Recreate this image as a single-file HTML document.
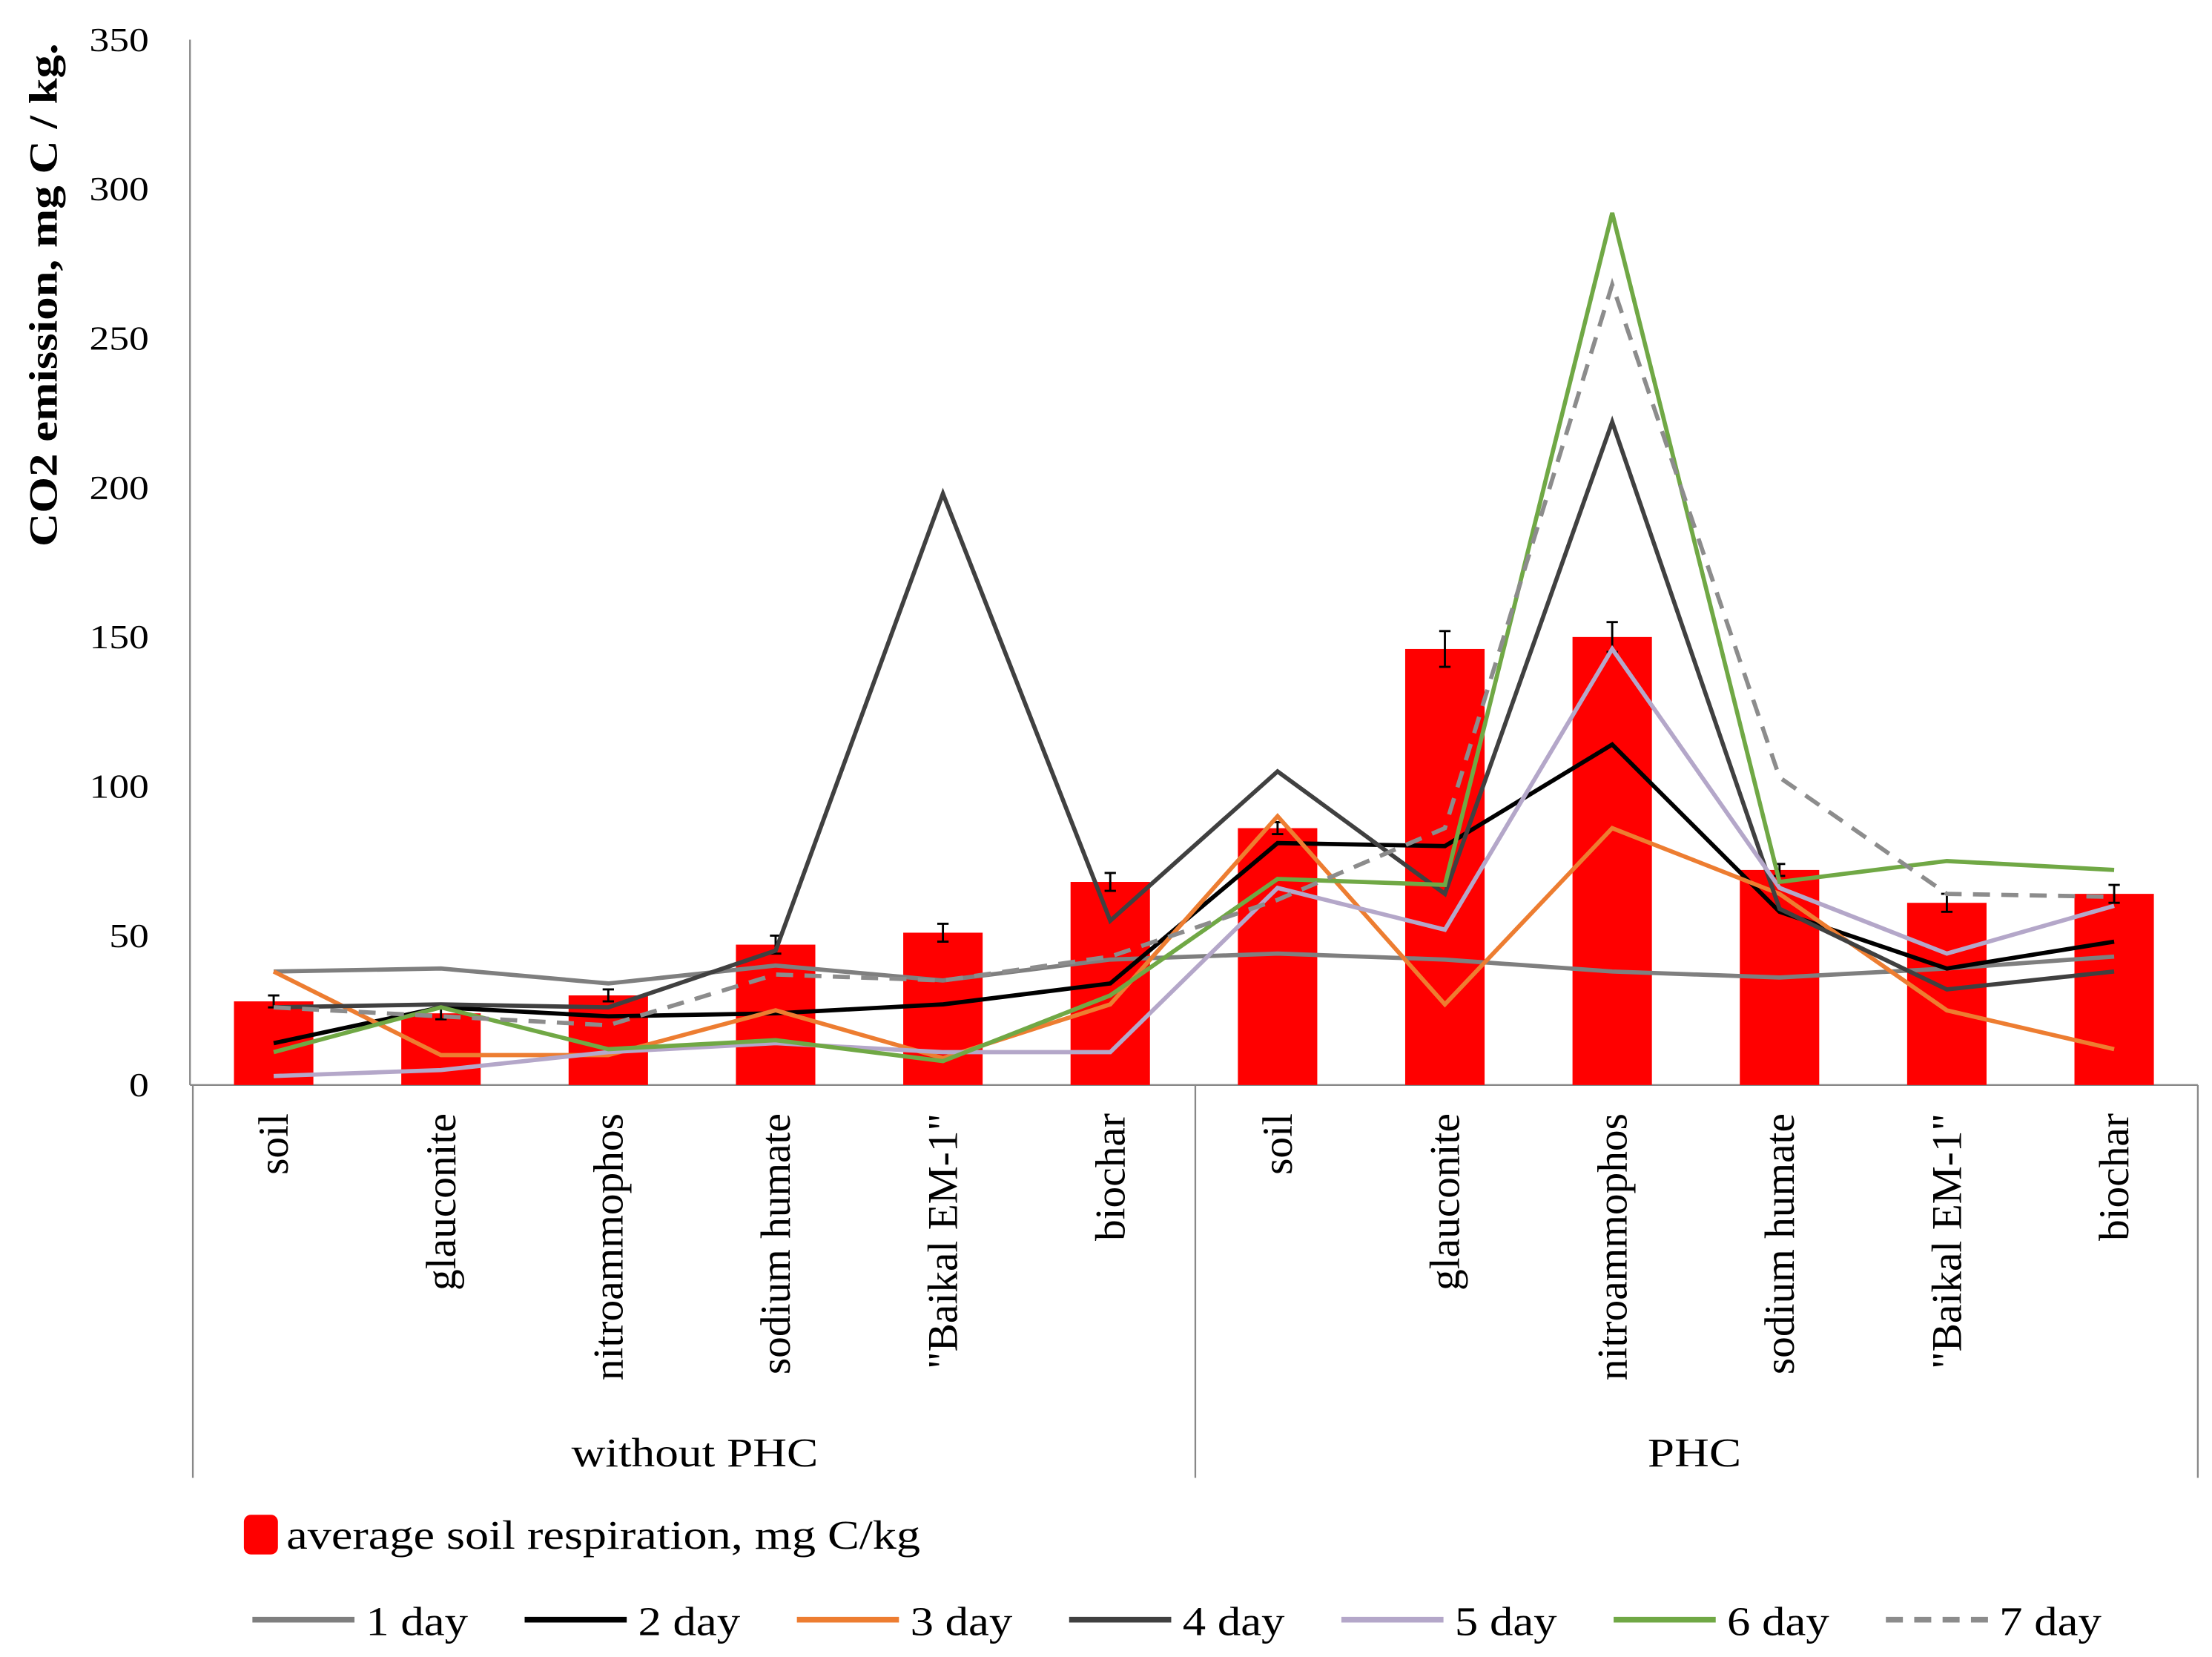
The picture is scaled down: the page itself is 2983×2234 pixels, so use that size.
<!DOCTYPE html>
<html><head><meta charset="utf-8"><style>
html,body{margin:0;padding:0;background:#fff}
svg{display:block}
text{font-family:"Liberation Serif",serif;fill:#000}
</style></head><body>
<svg id="chart" width="2983" height="2234" viewBox="0 0 1560 1168.3" preserveAspectRatio="none" xmlns="http://www.w3.org/2000/svg">
<g id="axes"></g><g id="bars"></g><g id="lines"></g><g id="legend"></g>
</svg>
<script>
const categories=["soil","glauconite","nitroammophos","sodium humate","\"Baikal EM-1\"","biochar","soil","glauconite","nitroammophos","sodium humate","\"Baikal EM-1\"","biochar"];
const groups=["without PHC","PHC"];
const yTicks=[0,50,100,150,200,250,300,350];
const barValues=[28,24,30,47,51,68,86,146,150,72,61,64];
const barErrors=[2,2,2,3,3,3,2,6,5,2,3,3];
const day1=[38,39,34,40,35,42,44,42,38,36,39,43];
const day2=[14,26,23,24,27,34,81,80,114,58,39,48];
const day3=[38,10,10,25,9,27,90,27,86,64,25,12];
const day4=[26,27,26,45,198,55,105,64,222,59,32,38];
const day5=[3,5,11,14,11,11,66,52,146,66,44,60];
const day6=[11,26,12,15,8,30,69,67,292,68,75,72];
const day7=[26,23,20,37,35,43,62,86,268,103,64,63];
const seriesNames=["1 day","2 day","3 day","4 day","5 day","6 day","7 day"];
const seriesData=[day1,day2,day3,day4,day5,day6,day7];
const seriesColors=["#7f7f7f","#000000","#ed7d31","#404040","#b4a7c9","#70a845","#8c8c8c"];

const NS="http://www.w3.org/2000/svg";
const X0=134,X1=1550,Y0=765,Y1=28,YMAX=350;
const cw=(X1-X0)/categories.length;
const xS=i=>X0+cw*(i+0.5);
const yS=v=>Y0-(v/YMAX)*(Y0-Y1);
function mk(tag,attrs,parent,txt){const e=document.createElementNS(NS,tag);for(const k in attrs)e.setAttribute(k,attrs[k]);if(txt!==undefined)e.textContent=txt;parent.appendChild(e);return e;}
const axes=document.getElementById('axes'),bars=document.getElementById('bars'),lines=document.getElementById('lines'),legend=document.getElementById('legend');

let a=mk('line',{x1:X0,y1:Y1,x2:X0,y2:Y0,stroke:'#888','stroke-width':1.2},axes);


a=mk('line',{x1:X0,y1:Y0,x2:X1,y2:Y0,stroke:'#888','stroke-width':1.2},axes);


yTicks.forEach(t=>{const s=String(t);const e=mk('text',{x:105,y:yS(t)+8,'text-anchor':'end','font-size':24,textLength:s.length*14,lengthAdjust:'spacingAndGlyphs'},axes,s);

});
let yt=mk('text',{x:0,y:0,transform:'translate(40,208) rotate(-90)','text-anchor':'middle','font-size':28,'font-weight':'bold',textLength:355,lengthAdjust:'spacingAndGlyphs'},axes,'CO2 emission,  mg C / kg.');


[X0+2,843,X1].forEach(x=>{const e=mk('line',{x1:x,y1:Y0,x2:x,y2:1042,stroke:'#888','stroke-width':1.2},axes);

});
categories.forEach((c,i)=>{const e=mk('text',{x:0,y:0,transform:`translate(${xS(i)+10},785) rotate(-90)`,'text-anchor':'end','font-size':30},axes,c);

});
const gLen=[174,66];
const gCx=[490,1195];
groups.forEach((g,gi)=>{const e=mk('text',{x:gCx[gi],y:1034,'text-anchor':'middle','font-size':29,textLength:gLen[gi],lengthAdjust:'spacingAndGlyphs'},axes,g);

});

barValues.forEach((v,i)=>{const w=56;const r=mk('rect',{x:xS(i)-w/2,y:yS(v),width:w,height:Y0-yS(v),fill:'#ff0000'},bars);


const e=barErrors[i];const g=mk('path',{d:`M${xS(i)},${yS(v+e)}V${yS(v-e)}M${xS(i)-4},${yS(v+e)}H${xS(i)+4}M${xS(i)-4},${yS(v-e)}H${xS(i)+4}`,stroke:'#000','stroke-width':1.5,fill:'none'},bars);

});

seriesData.forEach((d,s)=>{const p=mk('polyline',{points:d.map((v,i)=>xS(i)+','+yS(v)).join(' '),fill:'none',stroke:seriesColors[s],'stroke-width':3,'stroke-dasharray':s===6?'12,8':'none'},lines);

});

let lr=mk('rect',{x:172,y:1068,width:24,height:28,rx:5,fill:'#ff0000'},legend);


let lt=mk('text',{x:202,y:1092,'font-size':29,textLength:447,lengthAdjust:'spacingAndGlyphs'},legend,'average soil respiration,  mg C/kg');


const legX=[178,370,562,754,946,1138,1330];
seriesNames.forEach((n,s)=>{const x=legX[s];
const l=mk('line',{x1:x,y1:1142,x2:x+72,y2:1142,stroke:seriesColors[s],'stroke-width':4,'stroke-dasharray':s===6?'12,8':'none'},legend);


const t=mk('text',{x:x+80,y:1153,'font-size':29,textLength:72,lengthAdjust:'spacingAndGlyphs'},legend,n);

});
</script>
</body></html>
